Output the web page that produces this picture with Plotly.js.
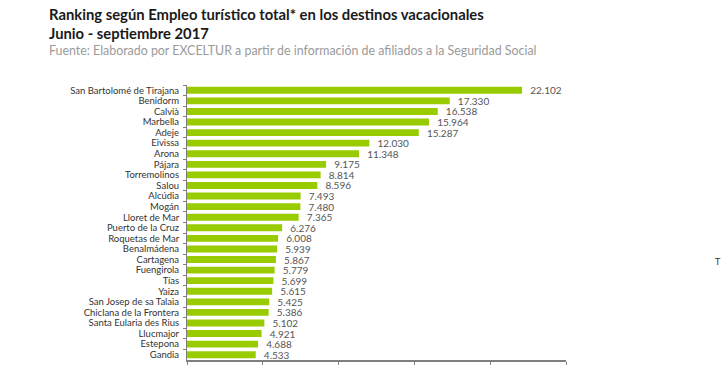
<!DOCTYPE html>
<html>
<head>
<meta charset="utf-8">
<script src="https://cdn.plot.ly/plotly-3.0.1.min.js"></script>
<style>html,body{margin:0;padding:0;background:#fff;}#chart{width:722px;height:365px;}</style>
</head>
<body>
<div id="chart"></div>
<script>
const destinos = ["San Bartolomé de Tirajana","Benidorm","Calvià","Marbella","Adeje","Eivissa","Arona","Pájara","Torremolinos","Salou","Alcúdia","Mogán","Lloret de Mar","Puerto de la Cruz","Roquetas de Mar","Benalmádena","Cartagena","Fuengirola","Tías","Yaiza","San Josep de sa Talaia","Chiclana de la Frontera","Santa Eularia des Rius","Llucmajor","Estepona","Gandia"];
const empleo = [22102,17330,16538,15964,15287,12030,11348,9175,8814,8596,7493,7480,7365,6276,6008,5939,5867,5779,5699,5615,5425,5386,5102,4921,4688,4533];
const titulo1 = "Ranking según Empleo turístico total* en los destinos vacacionales";
const titulo2 = "Junio - septiembre 2017";
const fuente = "Fuente: Elaborado por EXCELTUR a partir de información de afiliados a la Seguridad Social";

const W = 722, H = 365;
const mL = 187, mR = 156, mT = 85, mB = 5;
const pw = W - mL - mR, ph = H - mT - mB;
const px = x => (x - mL) / pw;
const py = y => (H - mB - y) / ph;

const trace = {
  type: 'bar',
  orientation: 'h',
  y: destinos,
  x: empleo,
  marker: {color: '#99CC00'},
  texttemplate: '\u00a0\u00a0%{x:,}',
  textposition: 'outside',
  constraintext: 'none',
  cliponaxis: false,
  textfont: {family: 'Lato, sans-serif', size: 10, color: '#555555'},
  hoverinfo: 'none'
};

const layout = {
  width: W, height: H,
  margin: {l: mL, r: mR, t: mT, b: mB},
  paper_bgcolor: '#ffffff', plot_bgcolor: '#ffffff',
  separators: ',.',
  showlegend: false,
  bargap: 0.35,
  font: {family: 'Lato, sans-serif', color: '#333333'},
  xaxis: {
    range: [0, 25000], dtick: 5000, tick0: 0,
    showgrid: false, zeroline: false,
    showline: true, linecolor: '#7f7f7f', linewidth: 2,
    ticks: 'outside', ticklen: 3, tickcolor: '#7f7f7f',
    showticklabels: false
  },
  yaxis: {
    autorange: 'reversed',
    tickmode: 'linear', dtick: 1,
    showgrid: false, zeroline: false,
    showline: true, linecolor: '#7f7f7f', linewidth: 1,
    ticks: 'outside', ticklen: 3, tickcolor: '#7f7f7f',
    tickson: 'boundaries',
    tickfont: {family: 'Lato, sans-serif', size: 9.5, color: '#333333'},
    ticklabelstandoff: 5
  },
  annotations: [
    {text: '<b>' + titulo1 + '</b>', xref: 'paper', yref: 'paper', x: px(47), y: py(14), xanchor: 'left', yanchor: 'middle', showarrow: false, font: {family: 'Lato, sans-serif', size: 14.8, color: '#1a1a1a'}},
    {text: '<b>' + titulo2 + '</b>', xref: 'paper', yref: 'paper', x: px(47), y: py(33), xanchor: 'left', yanchor: 'middle', showarrow: false, font: {family: 'Lato, sans-serif', size: 14.8, color: '#1a1a1a'}},
    {text: fuente, xref: 'paper', yref: 'paper', x: px(47), y: py(50), xanchor: 'left', yanchor: 'middle', showarrow: false, font: {family: 'Lato, sans-serif', size: 12.4, color: '#9a9a9a'}},
    {text: 'T', xref: 'paper', yref: 'paper', x: px(718), y: py(261), xanchor: 'center', yanchor: 'middle', showarrow: false, font: {family: 'Lato, sans-serif', size: 9, color: '#333333'}}
  ]
};

Plotly.newPlot('chart', [trace], layout, {staticPlot: true, displayModeBar: false});
</script>
</body>
</html>
